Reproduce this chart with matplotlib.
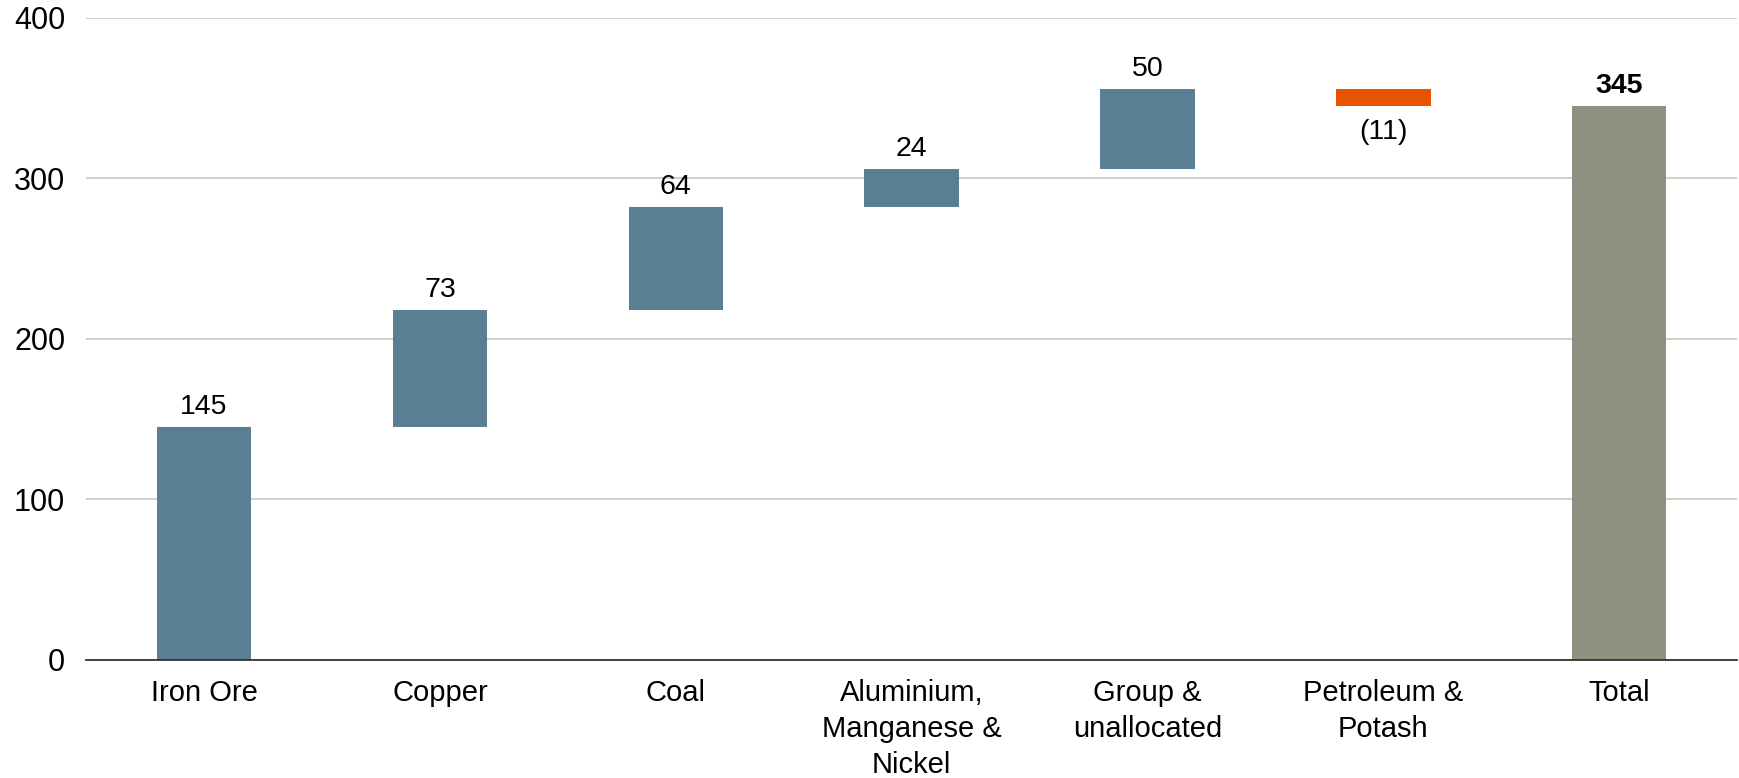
import matplotlib.pyplot as plt
import numpy as np

# datos del waterfall
categorias = ['Iron Ore', 'Copper', 'Coal', 'Aluminium,\nManganese &\nNickel',
              'Group &\nunallocated', 'Petroleum &\nPotash', 'Total']
cambios = [145, 73, 64, 24, 50, -11]
total = 345
etiquetas = ['145', '73', '64', '24', '50', '(11)', '345']

plt.rcParams['font.family'] = ['Liberation Sans', 'DejaVu Sans']

azul = '#5B7F92'
naranja = '#E85300'
gris = '#8F9080'

fig = plt.figure(figsize=(17.39, 7.78), dpi=100)
ax = fig.add_axes([0.0495, 0.1517, 0.9495, 0.8253])

x = np.arange(len(categorias))
fin = np.cumsum(cambios)
inicio = fin - np.array(cambios)

for i, c in enumerate(cambios):
    base = min(inicio[i], fin[i])
    color = azul if c >= 0 else naranja
    ax.bar(x[i], abs(c), bottom=base, width=0.4, color=color, zorder=3)
    if c >= 0:
        ax.annotate(etiquetas[i], (x[i], fin[i]), xytext=(0, 5), textcoords='offset points',
                    ha='center', va='bottom', fontsize=20.5)
    else:
        ax.annotate(etiquetas[i], (x[i], fin[i]), xytext=(0, -9), textcoords='offset points',
                    ha='center', va='top', fontsize=20.5)

ax.bar(x[-1], total, width=0.4, color=gris, zorder=3)
ax.annotate(etiquetas[-1], (x[-1], total), xytext=(0, 5), textcoords='offset points',
            ha='center', va='bottom', fontsize=20.5, fontweight='bold')

ax.set_xlim(-0.5, 6.5)
ax.set_ylim(0, 400)
ax.set_yticks([0, 100, 200, 300, 400])
ax.set_xticks(x)
ax.set_xticklabels(categorias, fontsize=21, linespacing=1.36)
ax.tick_params(axis='y', length=0, pad=15, labelsize=22)
ax.tick_params(axis='x', length=0, pad=14)

ax.grid(axis='y', color='#C8C8C0', linewidth=1.2, zorder=0)
for s in ['top', 'right', 'left']:
    ax.spines[s].set_visible(False)
ax.spines['bottom'].set_color('#333333')
ax.spines['bottom'].set_linewidth(1.3)
ax.spines['bottom'].set_zorder(4)

fig.savefig('out.png', dpi=100)
